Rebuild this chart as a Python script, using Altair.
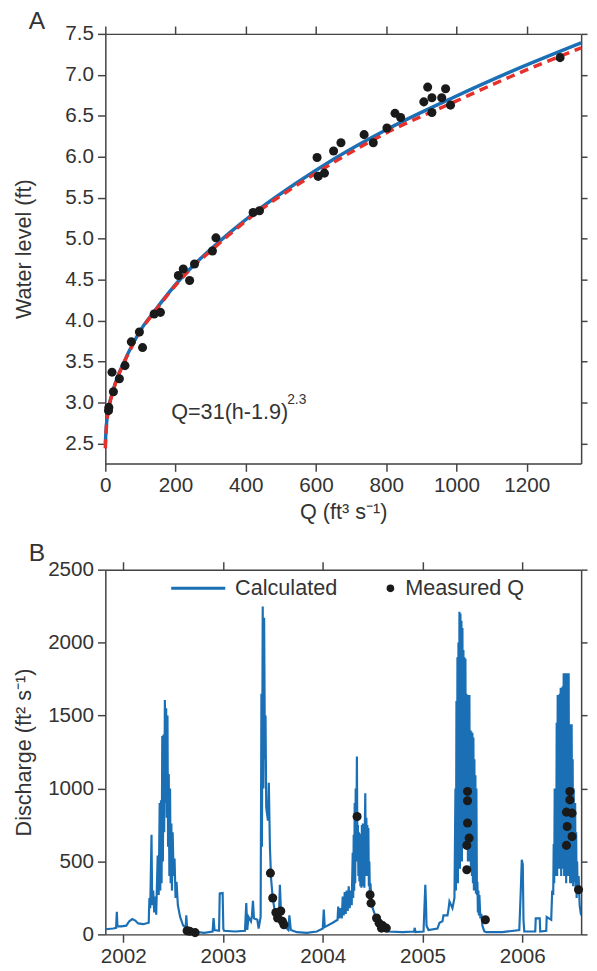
import altair as alt
import pandas as pd

# ---------------- Panel A: rating curve ----------------
meas_Q = [9, 10, 19, 23, 40, 56, 74, 97, 106, 139, 157, 208, 222, 240, 254, 305, 315,
          421, 439, 603, 606, 624, 650, 671, 737, 763, 802, 825, 841, 907, 918, 930, 930,
          958, 969, 983, 1295]
meas_h = [2.90, 2.94, 3.37, 3.13, 3.29, 3.45, 3.74, 3.86, 3.67, 4.08, 4.10, 4.55, 4.63, 4.49,
          4.69, 4.85, 5.01, 5.32, 5.34, 5.99, 5.76, 5.80, 6.07, 6.17, 6.27, 6.17, 6.35, 6.53,
          6.48, 6.67, 6.85, 6.72, 6.54, 6.72, 6.83, 6.63, 7.21]

blue_Q = [0, 3, 9, 23, 56, 79, 106, 139, 208, 250, 300, 356, 435, 541, 650, 800, 994, 1150, 1355]
blue_h = [2.50, 2.72, 2.92, 3.16, 3.52, 3.72, 3.92, 4.11, 4.48, 4.67, 4.87, 5.08, 5.35, 5.67,
          5.97, 6.33, 6.73, 7.03, 7.39]
red_Q = [0, 3, 9, 23, 56, 79, 106, 139, 208, 250, 300, 356, 435, 541, 650, 800, 994, 1150, 1355]
red_h = [2.44, 2.70, 2.90, 3.15, 3.51, 3.71, 3.91, 4.10, 4.47, 4.66, 4.85, 5.06, 5.33, 5.64,
         5.93, 6.29, 6.67, 6.97, 7.33]

xA_ticks = [0, 200, 400, 600, 800, 1000, 1200]
yA_ticks = [2.5, 3.0, 3.5, 4.0, 4.5, 5.0, 5.5, 6.0, 6.5, 7.0, 7.5]

# ---------------- Panel B: discharge time series ----------------
calc_year = [
    2001.82, 2001.90, 2001.928, 2001.935, 2001.942, 2001.98, 2002.03, 2002.06, 2002.09, 2002.12,
    2002.15, 2002.20, 2002.255, 2002.262, 2002.27, 2002.283, 2002.29, 2002.30, 2002.31, 2002.32,
    2002.33, 2002.345, 2002.355, 2002.365, 2002.371, 2002.378, 2002.384, 2002.391, 2002.397, 2002.404,
    2002.41, 2002.417, 2002.423, 2002.43, 2002.436, 2002.443, 2002.449, 2002.456, 2002.462, 2002.469,
    2002.475, 2002.482, 2002.488, 2002.495, 2002.505, 2002.514, 2002.524, 2002.534, 2002.547, 2002.57,
    2002.60, 2002.625, 2002.632, 2002.64, 2002.667, 2002.75, 2002.81, 2002.895, 2002.905, 2002.915,
    2002.96, 2002.967, 2002.996, 2003.003, 2003.01, 2003.12, 2003.22, 2003.233, 2003.243, 2003.255,
    2003.28, 2003.29, 2003.30, 2003.31, 2003.344, 2003.357, 2003.377, 2003.385, 2003.39, 2003.398,
    2003.405, 2003.412, 2003.42, 2003.426, 2003.433, 2003.45, 2003.459, 2003.47, 2003.482, 2003.498,
    2003.514, 2003.53, 2003.56, 2003.57, 2003.585, 2003.61, 2003.655, 2003.665, 2003.68, 2003.74,
    2003.84, 2003.94, 2004.00, 2004.01, 2004.02, 2004.10, 2004.148, 2004.155, 2004.165, 2004.18,
    2004.19, 2004.20, 2004.21, 2004.22, 2004.23, 2004.24, 2004.25, 2004.26, 2004.27, 2004.28,
    2004.29, 2004.30, 2004.305, 2004.31, 2004.315, 2004.32, 2004.325, 2004.33, 2004.335, 2004.342,
    2004.347, 2004.352, 2004.357, 2004.362, 2004.367, 2004.372, 2004.377, 2004.382, 2004.387, 2004.392,
    2004.397, 2004.402, 2004.407, 2004.412, 2004.417, 2004.422, 2004.426, 2004.432, 2004.437, 2004.442,
    2004.447, 2004.452, 2004.457, 2004.462, 2004.467, 2004.472, 2004.478, 2004.488, 2004.50, 2004.52,
    2004.54, 2004.56, 2004.58, 2004.60, 2004.65, 2004.80, 2004.915, 2004.922, 2004.93, 2005.01,
    2005.02, 2005.028, 2005.035, 2005.04, 2005.06, 2005.15, 2005.17, 2005.20, 2005.21, 2005.25,
    2005.26, 2005.27, 2005.30, 2005.32, 2005.33, 2005.335, 2005.34, 2005.345, 2005.35, 2005.355,
    2005.36, 2005.365, 2005.37, 2005.375, 2005.38, 2005.385, 2005.39, 2005.395, 2005.40, 2005.405,
    2005.41, 2005.415, 2005.42, 2005.425, 2005.43, 2005.435, 2005.44, 2005.445, 2005.45, 2005.455,
    2005.46, 2005.465, 2005.47, 2005.475, 2005.48, 2005.485, 2005.49, 2005.495, 2005.50, 2005.505,
    2005.51, 2005.515, 2005.52, 2005.525, 2005.53, 2005.535, 2005.54, 2005.545, 2005.55, 2005.555,
    2005.56, 2005.565, 2005.57, 2005.58, 2005.59, 2005.60, 2005.61, 2005.62, 2005.64, 2005.66,
    2005.80, 2005.97, 2005.985, 2005.995, 2006.005, 2006.012, 2006.02, 2006.13, 2006.135, 2006.175,
    2006.18, 2006.24, 2006.245, 2006.29, 2006.30, 2006.31, 2006.315, 2006.32, 2006.325, 2006.33,
    2006.335, 2006.34, 2006.345, 2006.35, 2006.355, 2006.36, 2006.365, 2006.37, 2006.375, 2006.38,
    2006.385, 2006.39, 2006.395, 2006.40, 2006.405, 2006.41, 2006.415, 2006.42, 2006.425, 2006.43,
    2006.435, 2006.44, 2006.445, 2006.45, 2006.455, 2006.46, 2006.465, 2006.47, 2006.475, 2006.48,
    2006.485, 2006.49, 2006.495, 2006.50, 2006.505, 2006.51, 2006.515, 2006.52, 2006.53, 2006.535,
    2006.54, 2006.545, 2006.55, 2006.555, 2006.565, 2006.575, 2006.585, 2006.59,
]
calc_q = [
    35, 40, 45, 155, 55, 55, 60, 90, 105, 95,
    75, 70, 80, 250, 180, 683, 200, 300, 150, 260,
    135, 540, 270, 900, 300, 920, 350, 1360, 500, 1370,
    700, 1607, 900, 1550, 800, 1500, 600, 1100, 400, 1000,
    350, 760, 300, 700, 400, 520, 250, 360, 200, 120,
    60, 50, 130, 40, 20, 15, 10, 20, 112, 30,
    25, 280, 283, 40, 25, 20, 25, 215, 30, 120,
    90, 130, 230, 110, 100, 40, 120, 1650, 600, 2247,
    1000, 2170, 1200, 1500, 870, 780, 1040, 600, 380, 250,
    180, 140, 100, 340, 90, 60, 30, 130, 30, 15,
    10, 20, 40, 170, 50, 80, 100, 190, 110, 180,
    110, 260, 130, 290, 140, 300, 160, 330, 180, 300,
    200, 560, 250, 683, 300, 900, 350, 1000, 500, 1219,
    600, 750, 400, 700, 363, 690, 330, 683, 320, 750,
    340, 760, 330, 700, 320, 750, 968, 400, 800, 420,
    750, 400, 730, 330, 500, 270, 350, 220, 180, 140,
    110, 75, 45, 30, 20, 15, 20, 45, 15, 20,
    200, 340, 200, 60, 30, 40, 80, 90, 130, 130,
    170, 226, 180, 250, 1000, 300, 1600, 400, 1900, 350,
    2000, 500, 2212, 450, 2200, 600, 2150, 500, 2100, 700,
    1950, 600, 1900, 800, 1890, 600, 1650, 700, 1640, 500,
    1640, 600, 1640, 500, 1400, 450, 1390, 400, 1380, 350,
    1350, 300, 1200, 300, 1090, 280, 1000, 270, 360, 150,
    300, 130, 270, 110, 140, 60, 40, 20, 15, 15,
    15, 30, 300, 512, 480, 100, 20, 20, 110, 110,
    20, 25, 120, 100, 300, 270, 620, 350, 1000, 400,
    1000, 450, 1450, 400, 1640, 500, 1640, 450, 1650, 500,
    1690, 400, 1690, 450, 1700, 500, 1790, 400, 1790, 450,
    1790, 350, 1790, 400, 1790, 450, 1790, 400, 1440, 350,
    1440, 380, 1440, 350, 1200, 330, 1000, 360, 900, 300,
    700, 250, 500, 300, 400, 200, 150, 130,
]

obs_year = [2002.64, 2002.665, 2002.72,
            2003.475, 2003.498, 2003.530, 2003.547, 2003.579, 2003.596, 2003.611,
            2004.344, 2004.474, 2004.484, 2004.539, 2004.565, 2004.588, 2004.600, 2004.637,
            2005.451, 2005.451, 2005.451, 2005.467, 2005.444, 2005.444, 2005.630,
            2006.477, 2006.477, 2006.443, 2006.499, 2006.450, 2006.499, 2006.443, 2006.564]
obs_q = [25, 22, 12,
         420, 249, 150, 112, 160, 89, 66,
         808, 272, 214, 112, 77, 43, 60, 43,
         980, 916, 763, 660, 610, 443, 100,
         980, 922, 838, 831, 740, 671, 610, 306]

xB_ticks = [2002, 2003, 2004, 2005, 2006]
yB_ticks = [0, 500, 1000, 1500, 2000, 2500]

# ---------------- styling ----------------
FONT = "Liberation Sans"
TXT = "#333333"
AXC = "#444444"
BLUE = "#1b6fb5"
RED = "#e8302b"
DOT = "#1a1a1a"
W = 484
HA = 437
HB = 371


def axis(orient, values, labels=True, title=None, fmt=None, tx=None, ty=None, tick=8):
    kw = dict(orient=orient, values=values, labels=labels, grid=False,
              tickSize=tick, tickWidth=1.5, tickColor=AXC, domainColor=AXC, domainWidth=1.5,
              labelFont=FONT, labelFontSize=21, labelColor=TXT, labelPadding=4,
              labelFlush=False, labelOverlap=False)
    if fmt:
        kw["format"] = fmt
    if title:
        kw.update(title=title, titleFont=FONT, titleFontSize=22, titleFontWeight="normal",
                  titleColor=TXT, titleBaseline="alphabetic", titleX=tx, titleY=ty)
    else:
        kw["title"] = None
    return alt.Axis(**kw)


# ---------- Panel A ----------
xsA = alt.Scale(domain=[0, 1355], nice=False, zero=False)
ysA = alt.Scale(domain=[2.255, 7.5], nice=False, zero=False)

dfA_pts = pd.DataFrame({"Q": meas_Q, "h": meas_h})
dfA_blue = pd.DataFrame({"Q": blue_Q, "h": blue_h})
dfA_red = pd.DataFrame({"Q": red_Q, "h": red_h})

a_blue = alt.Chart(dfA_blue).mark_line(color=BLUE, strokeWidth=3.5, interpolate="monotone").encode(
    x=alt.X("Q:Q", scale=xsA, axis=axis("top", xA_ticks, labels=False)),
    y=alt.Y("h:Q", scale=ysA, axis=axis("right", yA_ticks, labels=False, tick=6)),
)
a_red = alt.Chart(dfA_red).mark_line(color=RED, strokeWidth=3.5, strokeDash=[9, 6],
                                      interpolate="monotone").encode(
    x=alt.X("Q:Q", scale=xsA, axis=None),
    y=alt.Y("h:Q", scale=ysA, axis=None),
)
a_pts = alt.Chart(dfA_pts).mark_circle(color=DOT, size=85, opacity=1).encode(
    x=alt.X("Q:Q", scale=xsA, axis=axis("bottom", xA_ticks, title="Q (ft³ s⁻¹)", fmt="d",
                                         tx=W / 2, ty=56)),
    y=alt.Y("h:Q", scale=ysA, axis=axis("left", yA_ticks, title="Water level (ft)", fmt=".1f",
                                         tx=-76, ty=HA / 2)),
)
a_label = alt.Chart(pd.DataFrame({"t": ["A"]})).mark_text(
    font=FONT, fontSize=25, align="left", baseline="top", color=TXT
).encode(x=alt.value(-78), y=alt.value(-25), text="t:N")
a_eq = alt.Chart(pd.DataFrame({"t": ["Q=31(h-1.9)"]})).mark_text(
    font=FONT, fontSize=22, align="left", baseline="alphabetic", color=TXT
).encode(x=alt.value(67), y=alt.value(HA - 45), text="t:N")
a_sup = alt.Chart(pd.DataFrame({"t": ["2.3"]})).mark_text(
    font=FONT, fontSize=14, align="left", baseline="alphabetic", color=TXT
).encode(x=alt.value(185), y=alt.value(HA - 61), text="t:N")

panelA = alt.layer(a_blue, a_red, a_pts, a_label, a_eq, a_sup).resolve_axis(
    x="independent", y="independent"
).properties(width=W, height=HA)

# ---------- Panel B ----------
xsB = alt.Scale(domain=[2001.82, 2006.59], nice=False, zero=False)
ysB = alt.Scale(domain=[0, 2500], nice=False, zero=False)

dfB_calc = pd.DataFrame({"year": calc_year, "Q": calc_q})
dfB_obs = pd.DataFrame({"year": obs_year, "Q": obs_q})

b_line = alt.Chart(dfB_calc).mark_line(color=BLUE, strokeWidth=2.2, clip=True).encode(
    x=alt.X("year:Q", scale=xsB, axis=axis("top", xB_ticks, labels=False)),
    y=alt.Y("Q:Q", scale=ysB, axis=axis("right", yB_ticks, labels=False, tick=6)),
    order="year:Q",
)
b_pts = alt.Chart(dfB_obs).mark_circle(color=DOT, size=85, opacity=1).encode(
    x=alt.X("year:Q", scale=xsB, axis=axis("bottom", xB_ticks, fmt="d")),
    y=alt.Y("Q:Q", scale=ysB, axis=axis("left", yB_ticks, title="Discharge (ft² s⁻¹)", fmt="d",
                                         tx=-76, ty=HB / 2)),
)
leg_df = pd.DataFrame({"a": ["Calculated"], "b": ["Measured Q"], "p": ["B"]})
b_leg_rule = alt.Chart(leg_df).mark_rule(color=BLUE, strokeWidth=3).encode(
    x=alt.value(67), x2=alt.value(122), y=alt.value(19))
b_leg_t1 = alt.Chart(leg_df).mark_text(
    font=FONT, fontSize=22, align="left", baseline="middle", color=TXT
).encode(x=alt.value(132), y=alt.value(19), text="a:N")
b_leg_dot = alt.Chart(leg_df).mark_circle(color=DOT, size=60, opacity=1).encode(
    x=alt.value(290), y=alt.value(19))
b_leg_t2 = alt.Chart(leg_df).mark_text(
    font=FONT, fontSize=22, align="left", baseline="middle", color=TXT
).encode(x=alt.value(305), y=alt.value(19), text="b:N")
b_label = alt.Chart(leg_df).mark_text(
    font=FONT, fontSize=25, align="left", baseline="top", color=TXT
).encode(x=alt.value(-78), y=alt.value(-29), text="p:N")

panelB = alt.layer(b_line, b_pts, b_leg_rule, b_leg_t1, b_leg_dot, b_leg_t2, b_label).resolve_axis(
    x="independent", y="independent"
).properties(width=W, height=HB)

chart = alt.vconcat(panelA, panelB, spacing=17).configure_view(stroke=None).configure(
    background="white"
).properties(padding={"left": 4, "right": 0, "top": -8, "bottom": 0})

chart.save("out.html", embed_options={"renderer": "svg", "actions": False})
